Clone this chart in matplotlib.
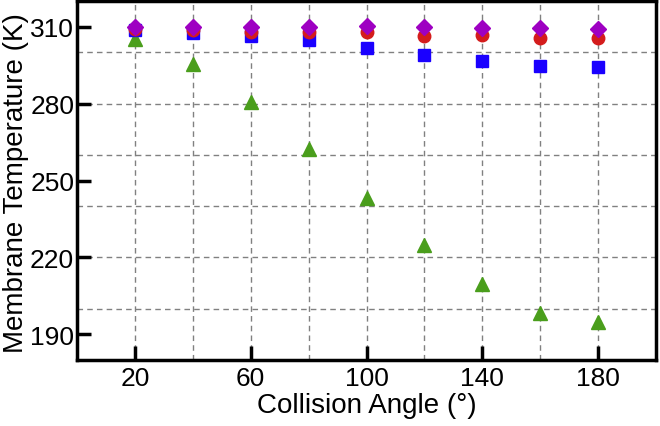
import numpy as np
import matplotlib
matplotlib.use("Agg")
import matplotlib.pyplot as plt

plt.rcParams['font.family'] = ['Liberation Sans', 'DejaVu Sans']

angle = [20, 40, 60, 80, 100, 120, 140, 160, 180]
green_tri = [305.3, 295.3, 280.6, 262.3, 243.1, 224.8, 209.6, 198.5, 195.0]
blue_sq = [308.6, 307.7, 306.2, 304.7, 301.7, 298.8, 296.7, 294.5, 294.2]
red_circ = [309.2, 308.6, 308.0, 308.0, 308.0, 306.2, 306.9, 305.7, 305.6]
purple_dia = [310.0, 310.0, 310.0, 310.0, 310.3, 309.8, 309.6, 309.4, 309.2]

fig = plt.figure(figsize=(6.6, 4.27), dpi=100)
ax = fig.add_axes([77/660, 1-361/427, 579/660, 359/427])

ax.plot(angle, green_tri, "^", color="#4a9e1c", markersize=9.5, zorder=3)
ax.plot(angle, blue_sq, "s", color="#1a00ff", markersize=8, zorder=4)
ax.plot(angle, red_circ, "o", color="#d41c1c", markersize=9, zorder=5)
ax.plot(angle, purple_dia, "D", color="#9e00c2", markersize=8.5, zorder=6)

ax.set_xlim(0, 200)
ax.set_ylim(180, 320)
ax.set_xticks([20, 60, 100, 140, 180])
ax.set_yticks([190, 220, 250, 280, 310])

# dashed grid every 20 in both directions
for gx in np.arange(20, 181, 20):
    ax.axvline(gx, linestyle=(0, (4, 3)), color="#808080", linewidth=1, zorder=1)
for gy in np.arange(200, 301, 20):
    ax.axhline(gy, linestyle=(0, (4, 3)), color="#808080", linewidth=1, zorder=1)

ax.tick_params(direction="in", length=10, width=2.5, labelsize=19)
ax.tick_params(axis="x", pad=4)
ax.tick_params(axis="y", pad=2)
for s in ax.spines.values():
    s.set_linewidth(2.5)

ax.set_xlabel("Collision Angle (°)", fontsize=20)
ax.set_ylabel("Membrane Temperature (K)", fontsize=20)
ax.xaxis.set_label_coords(0.5, -0.089)
ax.yaxis.set_label_coords(-0.083, 0.495)

fig.savefig("out.png", dpi=100)
